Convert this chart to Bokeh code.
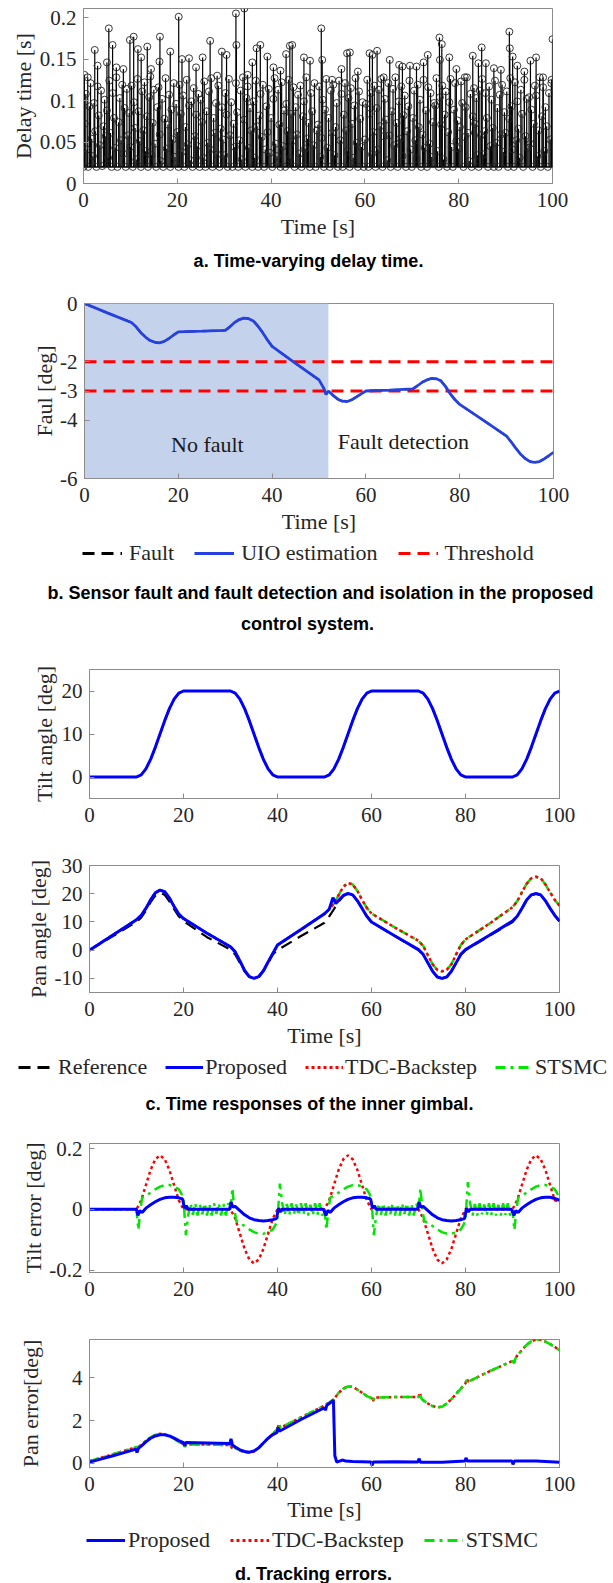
import numpy as np
from bokeh.plotting import figure
from bokeh.layouts import column, row
from bokeh.models import Range1d, FixedTicker, Legend, LegendItem, Label, BoxAnnotation
from bokeh.embed import file_html
from bokeh.resources import INLINE

# ====================== DATA ======================
time_ticks = [0, 20, 40, 60, 80, 100]
time_tick_labels = ["0", "20", "40", "60", "80", "100"]

# (a) time-varying delay
delay_ticks = [0, 0.05, 0.1, 0.15, 0.2]
delay_tick_labels = ["0", "0.05", "0.1", "0.15", "0.2"]
delay_min = 0.02
delay_sample_period = 0.25
delay_dense = [
    .020, .072, .108, .041, .020, .093, .121, .054, .033, .097, .063, .020, .117, .082, .046, .112, .021, .069, .101, .057,
    .088, .031, .124, .061, .020, .109, .079, .043, .128, .020, .074, .103, .052, .119, .036, .091, .020, .114, .058, .085,
    .044, .118, .020, .098, .067, .029, .126, .087, .051, .020, .111, .064, .122, .039, .081, .020, .104, .129, .034, .073,
    .113, .048, .020, .092, .116, .059, .027, .102, .020, .078, .127, .042, .071, .107, .020, .089, .053, .121, .032, .096,
    .062, .020, .119, .084, .038, .106, .020, .068, .125, .047, .094, .028, .099, .020, .115, .057, .083, .045, .108, .020,
    .101, .074, .031, .123, .020, .087, .049, .111, .041, .127, .020, .079, .061, .097, .035, .118, .020, .066, .092, .053,
    .034, .109, .083, .020, .126, .058, .098, .020, .072, .044, .121, .086, .020, .052, .112, .029, .128, .077, .020, .103,
    .117, .043, .091, .064, .020, .099, .031, .124, .069, .020, .082, .108, .056, .119, .020, .041, .093, .062, .114, .037,
    .079, .020, .102, .127, .048, .033, .113, .071, .020, .122, .045, .088, .020, .096, .063, .125, .030, .084, .051, .116,
    .020, .092, .059, .107, .036, .118, .020, .081, .099, .042, .128, .054, .073, .020, .109, .087, .046, .121, .020, .064,
    .071, .117, .032, .055, .101, .020, .089, .126, .043, .079, .020, .112, .061, .119, .034, .068, .097, .020, .124, .052,
    .108, .020, .083, .121, .064, .039, .103, .020, .115, .072, .031, .094, .127, .049, .020, .111, .078, .044, .098, .020,
    .053, .096, .125, .020, .084, .109, .035, .062, .118, .020, .091, .041, .113, .069, .126, .020, .057, .102, .077, .028,
    .121, .058, .020, .087, .114, .046, .128, .073, .020, .099, .054, .117, .033, .082, .106, .020, .063, .093, .124, .041,
    .020, .079, .112, .052, .030, .119, .068, .101, .020, .059, .125, .043, .088, .020, .116, .048, .109, .032, .074, .097,
    .094, .127, .039, .020, .104, .071, .118, .029, .083, .111, .020, .062, .098, .126, .044, .020, .089, .121, .051, .076,
    .042, .068, .123, .097, .020, .056, .092, .128, .061, .027, .108, .020, .081, .115, .072, .103, .034, .020, .112, .058,
    .126, .035, .063, .109, .079, .020, .117, .045, .101, .067, .020, .124, .049, .091, .020, .107, .059, .119, .038, .086,
    .061, .111, .020, .078, .127, .093, .041, .020, .122, .052, .099, .066, .031, .113, .084, .020, .125, .057, .102, .043,
    .104, .048, .089, .020, .072, .118, .106, .033, .064, .128, .020, .081, .116, .039, .092, .069, .020, .109, .053, .121,
]
delay_peaks = [
    (0.2, .131), (0.9, .128), (2.4, .161), (3.0, .142), (5.0, .146), (5.4, .187), (6.2, .167), (7.0, .140),
    (8.5, .138), (9.9, .173), (10.7, .177), (11.6, .162), (12.3, .152), (13.6, .165), (14.4, .138), (16.2, .147),
    (16.3, .177), (18.5, .159), (20.3, .201), (21.0, .150), (22.5, .151), (24.0, .140), (25.4, .152), (27.0, .172),
    (28.5, .130), (29.5, .159), (30.5, .155), (32.5, .205), (32.6, .167), (34.3, .211), (35.0, .131), (36.0, .146),
    (36.9, .163), (37.7, .167), (39.2, .153), (40.5, .140), (42.0, .136), (43.2, .156), (44.0, .166), (44.5, .167),
    (47.0, .152), (48.3, .148), (50.7, .187), (50.9, .149), (53.0, .125), (55.0, .138), (56.2, .157), (56.8, .158),
    (58.5, .135), (61.0, .157), (61.6, .155), (62.6, .160), (64.0, .128), (65.3, .149), (67.3, .143), (68.0, .141),
    (69.6, .142), (71.0, .141), (72.5, .146), (73.4, .155), (75.9, .176), (76.0, .149), (76.4, .168), (78.0, .152),
    (79.5, .138), (81.3, .128), (83.0, .154), (84.2, .145), (84.9, .164), (85.8, .145), (87.5, .139), (89.0, .137),
    (90.8, .183), (90.9, .163), (91.5, .153), (92.5, .142), (94.0, .135), (95.3, .148), (96.5, .152), (98.0, .128),
    (99.8, .125), (100.0, .174),
]

# (b) fault detection
fault_ticks = [0, -2, -3, -4, -6]
fault_tick_labels = ["0", "-2", "-3", "-4", "-6"]
no_fault_end = 52
threshold_levels = [-2, -3]
threshold_t = [0, 100]
uio_t = [0, 5, 10, 11, 12, 13, 14, 15, 16, 17, 18, 19, 20, 25, 30, 31, 32, 33, 34, 35, 36, 37, 38, 39, 40,
         45, 50, 51, 51.5, 52, 53, 54, 55, 56, 57, 58, 59, 60, 65, 70, 71, 72, 73, 74, 75, 76, 77, 78, 79, 80,
         85, 90, 91, 92, 93, 94, 95, 96, 97, 98, 99, 100]
uio_v = [0, -0.33, -0.65, -0.8, -1.0, -1.15, -1.27, -1.33, -1.35, -1.3, -1.2, -1.08, -0.97, -0.95, -0.92,
         -0.8, -0.65, -0.55, -0.5, -0.52, -0.6, -0.78, -1.0, -1.25, -1.47, -2.05, -2.62, -2.9, -3.12, -3.0,
         -3.15, -3.28, -3.35, -3.36, -3.3, -3.2, -3.1, -3.0, -2.97, -2.93, -2.82, -2.7, -2.62, -2.57, -2.58,
         -2.65, -2.85, -3.1, -3.3, -3.46, -4.0, -4.55, -4.75, -4.97, -5.17, -5.32, -5.42, -5.45, -5.42, -5.33,
         -5.22, -5.1]
fault_t = uio_t
fault_v = uio_v

# (c) inner gimbal responses
tilt_ticks = [0, 10, 20]
tilt_tick_labels = ["0", "10", "20"]
tilt_t = [0, 10, 11, 12, 13, 14, 15, 16, 17, 18, 19, 20, 30, 31, 32, 33, 34, 35, 36, 37, 38, 39, 40,
          50, 51, 52, 53, 54, 55, 56, 57, 58, 59, 60, 70, 71, 72, 73, 74, 75, 76, 77, 78, 79, 80,
          90, 91, 92, 93, 94, 95, 96, 97, 98, 99, 100]
tilt_v = [0, 0, 0.5, 1.9, 4.1, 6.9, 10, 13.1, 15.9, 18.1, 19.5, 20,
          20, 19.5, 18.1, 15.9, 13.1, 10, 6.9, 4.1, 1.9, 0.5, 0,
          0, 0.5, 1.9, 4.1, 6.9, 10, 13.1, 15.9, 18.1, 19.5, 20,
          20, 19.5, 18.1, 15.9, 13.1, 10, 6.9, 4.1, 1.9, 0.5, 0,
          0, 0.5, 1.9, 4.1, 6.9, 10, 13.1, 15.9, 18.1, 19.5, 20]

pan_ticks = [-10, 0, 10, 20, 30]
pan_tick_labels = ["-10", "0", "10", "20", "30"]
pan_ref_t = [0, 10, 11, 12, 13, 14, 15, 16, 17, 18, 19, 20, 25, 30, 31, 32, 33, 34, 35, 36, 37, 38, 39, 40,
             45, 50, 51, 52, 53, 54, 55, 56, 57, 58, 59, 60, 65, 70, 71, 72, 73, 74, 75, 76, 77, 78, 79, 80,
             85, 90, 91, 92, 93, 94, 95, 96, 97, 98, 99, 100]
pan_ref_v = [0, 10, 11.5, 14, 17, 19.3, 20.3, 19.6, 17.3, 14.5, 12, 10.3, 4.6, 0.2,
             -1.5, -4.5, -7.5, -9.4, -10, -9.4, -7.5, -4.5, -1.5, 0, 5, 9.7,
             12, 14.5, 17.2, 19.2, 20, 19.5, 17.5, 14.8, 12, 10, 5, 0,
             -1.5, -4.5, -7.5, -9.5, -10, -9.5, -7.5, -4.5, -1.5, 0, 5, 10,
             12, 14.8, 17.8, 19.5, 20, 19.5, 17.5, 14.8, 12.3, 10.2]
pan_prop_t = [0, 10, 11, 12, 13, 14, 15, 16, 17, 18, 19, 20, 25, 30, 31, 32, 33, 34, 35, 36, 37, 38, 39, 40,
              45, 50, 51, 51.8, 52.4, 53, 54, 55, 56, 57, 58, 59, 60, 65, 70, 71, 72, 73, 74, 75, 76, 77, 78,
              79, 80, 85, 90, 91, 92, 93, 94, 95, 96, 97, 98, 99, 100]
pan_prop_v = [0, 10.8, 12.3, 14.8, 17.8, 20.3, 21.3, 20.7, 18.5, 15.5, 12.8, 11.2, 6, 1.2,
              -0.6, -3.8, -7.2, -9.4, -10, -9.4, -7.3, -4.2, -1.2, 1.8, 7.3, 12.9,
              14.5, 18.6, 16.5, 17.6, 19.4, 20.1, 19.6, 17.5, 14.8, 12, 10, 5, 0.2,
              -1.5, -4.5, -7.5, -9.5, -10, -9.5, -7.5, -4.5, -1.5, 0.2, 5.2, 10.3,
              12, 14.8, 17.8, 19.6, 20.1, 19.6, 17.5, 14.8, 12.3, 10.3]
pan_tdc_t = [0, 10, 11, 12, 13, 14, 15, 16, 17, 18, 19, 20, 25, 30, 31, 32, 33, 34, 35, 36, 37, 38, 39, 40,
             45, 50, 51, 52, 53, 54, 55, 56, 57, 58, 59, 60, 65, 70, 71, 72, 73, 74, 75, 76, 77, 78, 79, 80,
             85, 90, 91, 92, 93, 94, 95, 96, 97, 98, 99, 100]
pan_tdc_v = [0, 10.8, 12.3, 14.8, 17.8, 20.3, 21.3, 20.7, 18.5, 15.5, 12.8, 11.2, 6, 1.2,
             -0.6, -3.8, -7.2, -9.4, -10, -9.4, -7.3, -4.2, -1.2, 1.8, 7.3, 12.9,
             14.5, 16.5, 19.5, 22.5, 23.8, 23.3, 21, 17.8, 15, 13, 8, 3.3,
             1.5, -1.8, -5, -7, -7.5, -7, -5, -1.5, 1.8, 3.8, 9.3, 15.2,
             17.3, 20.5, 23.5, 25.5, 26, 25.5, 23.3, 20.5, 17.8, 15.8]
pan_stsmc_t = pan_tdc_t
pan_stsmc_v = pan_tdc_v

# (d) tracking errors
tilt_err_ticks = [-0.2, 0, 0.2]
tilt_err_tick_labels = ["-0.2", "0", "0.2"]
tilt_err_prop_t = [0, 10, 10.3, 10.7, 11.2, 12, 13, 14, 15, 16, 17, 18, 19, 19.8, 20.2, 20.6, 21, 25, 29.8,
                   30.1, 30.5, 31, 32, 33, 34, 35, 36, 37, 38, 39, 39.8, 40.2, 40.6, 41, 45, 49.8,
                   50.3, 50.7, 51.2, 52, 53, 54, 55, 56, 57, 58, 59, 59.8, 60.2, 60.6, 61, 65, 69.8,
                   70.1, 70.5, 71, 72, 73, 74, 75, 76, 77, 78, 79, 79.8, 80.2, 80.6, 81, 85, 89.8,
                   90.3, 90.7, 91.2, 92, 93, 94, 95, 96, 97, 98, 99, 100]
tilt_err_prop_v = [0, 0, -0.02, -0.004, -0.01, 0.004, 0.015, 0.025, 0.033, 0.038, 0.04, 0.04, 0.038,
                   0.034, 0.004, 0.012, 0.0, 0.0, 0.0,
                   0.024, 0.008, 0.01, -0.004, -0.018, -0.028, -0.034, -0.037, -0.038, -0.037, -0.034,
                   -0.03, 0.004, -0.008, 0.0, 0.0, 0.0,
                   -0.02, -0.004, -0.01, 0.004, 0.015, 0.025, 0.033, 0.038, 0.04, 0.04, 0.038,
                   0.034, 0.004, 0.012, 0.0, 0.0, 0.0,
                   0.024, 0.008, 0.01, -0.004, -0.018, -0.028, -0.034, -0.037, -0.038, -0.037, -0.034,
                   -0.03, 0.004, -0.008, 0.0, 0.0, 0.0,
                   -0.02, -0.004, -0.01, 0.004, 0.015, 0.025, 0.033, 0.038, 0.04, 0.04, 0.036, 0.03]
tilt_err_tdc_t = [0, 10, 11, 12, 13, 14, 15, 16, 17, 18, 19, 20, 30, 31, 32, 33, 34, 35, 36, 37, 38, 39, 40,
                  50, 51, 52, 53, 54, 55, 56, 57, 58, 59, 60, 70, 71, 72, 73, 74, 75, 76, 77, 78, 79, 80,
                  90, 91, 92, 93, 94, 95, 96, 97, 98, 99, 100]
tilt_err_tdc_v = [0, 0, 0.03, 0.08, 0.13, 0.165, 0.178, 0.165, 0.13, 0.08, 0.03, 0,
                  0, -0.03, -0.08, -0.13, -0.165, -0.178, -0.165, -0.13, -0.08, -0.03, 0,
                  0, 0.03, 0.08, 0.13, 0.165, 0.178, 0.165, 0.13, 0.08, 0.03, 0,
                  0, -0.03, -0.08, -0.13, -0.165, -0.178, -0.165, -0.13, -0.08, -0.03, 0,
                  0, 0.03, 0.08, 0.13, 0.165, 0.178, 0.165, 0.13, 0.08, 0.03, 0.025]
tilt_err_stsmc_t = [0, 10, 10.4, 10.8, 11.2, 12, 13, 14, 15, 16, 17, 18, 19, 19.6, 20,
                    20.5, 21, 21.5, 22, 22.5, 23, 23.5, 24, 24.5, 25, 25.5, 26, 26.5, 27, 27.5, 28, 28.5, 29, 29.5, 30,
                    30.4, 30.8, 31.2, 32, 33, 34, 35, 36, 37, 38, 39, 39.6, 40,
                    40.5, 41, 41.5, 42, 42.5, 43, 43.5, 44, 44.5, 45, 45.5, 46, 46.5, 47, 47.5, 48, 48.5, 49, 49.5, 50,
                    50.4, 50.8, 51.2, 52, 53, 54, 55, 56, 57, 58, 59, 59.6, 60,
                    60.5, 61, 61.5, 62, 62.5, 63, 63.5, 64, 64.5, 65, 65.5, 66, 66.5, 67, 67.5, 68, 68.5, 69, 69.5, 70,
                    70.4, 70.8, 71.2, 72, 73, 74, 75, 76, 77, 78, 79, 79.6, 80,
                    80.5, 81, 81.5, 82, 82.5, 83, 83.5, 84, 84.5, 85, 85.5, 86, 86.5, 87, 87.5, 88, 88.5, 89, 89.5, 90,
                    90.4, 90.8, 91.2, 92, 93, 94, 95, 96, 97, 98, 99, 99.6, 100]
tilt_err_stsmc_v = [0, 0, -0.068, -0.005, 0.038, 0.045, 0.055, 0.066, 0.075, 0.08, 0.08, 0.076, 0.066, 0.05, 0.035,
                    -0.085, -0.02, 0.02, -0.018, 0.02, -0.02, 0.016, -0.016, 0.02, -0.02, 0.018, -0.02, 0.02, -0.015, 0.02, -0.02, 0.018, -0.02, 0.02, 0.0,
                    0.07, 0.005, -0.038, -0.045, -0.055, -0.066, -0.075, -0.08, -0.08, -0.076, -0.066, -0.05, -0.035,
                    0.085, 0.02, -0.02, 0.018, -0.02, 0.02, -0.016, 0.016, -0.02, 0.02, -0.018, 0.02, -0.02, 0.015, -0.02, 0.02, -0.018, 0.02, -0.02, 0.0,
                    -0.068, -0.005, 0.038, 0.045, 0.055, 0.066, 0.075, 0.08, 0.08, 0.076, 0.066, 0.05, 0.035,
                    -0.085, -0.02, 0.02, -0.018, 0.02, -0.02, 0.016, -0.016, 0.02, -0.02, 0.018, -0.02, 0.02, -0.015, 0.02, -0.02, 0.018, -0.02, 0.02, 0.0,
                    0.07, 0.005, -0.038, -0.045, -0.055, -0.066, -0.075, -0.08, -0.08, -0.076, -0.066, -0.05, -0.035,
                    0.09, 0.02, -0.02, 0.018, -0.02, 0.02, -0.016, 0.016, -0.02, 0.02, -0.018, 0.02, -0.02, 0.015, -0.02, 0.02, -0.018, 0.02, -0.02, 0.0,
                    -0.068, -0.005, 0.038, 0.045, 0.055, 0.066, 0.075, 0.08, 0.08, 0.076, 0.066, 0.05, 0.04]

pan_err_ticks = [0, 2, 4]
pan_err_tick_labels = ["0", "2", "4"]
pan_err_prop_t = [0, 5, 9.9, 10.1, 10.4, 11, 12, 13, 14, 15, 16, 17, 18, 19, 20, 20.2, 20.5, 25, 29.9, 30.1, 30.4,
                  31, 32, 33, 34, 35, 36, 37, 38, 39, 39.9, 40.1, 40.4, 45, 50, 50.2, 50.5, 51.5, 51.9, 52.2,
                  52.6, 53.2, 53.8, 54.5, 56, 59.9, 60.1, 60.4, 65, 69.9, 70.1, 70.4, 75, 79.9, 80.1, 80.4, 85,
                  89.9, 90.1, 90.4, 95, 100]
pan_err_prop_v = [0.05, 0.35, 0.66, 0.5, 0.7, 0.8, 1.0, 1.17, 1.28, 1.33, 1.33, 1.28, 1.18, 1.06, 0.97,
                  0.82, 0.97, 0.95, 0.92, 1.14, 0.86, 0.76, 0.63, 0.55, 0.52, 0.57, 0.72, 0.95, 1.17, 1.34,
                  1.44, 1.68, 1.5, 2.05, 2.6, 2.48, 2.72, 2.88, 2.95, 0.35, 0.06, 0.1, 0.15, 0.1, 0.08, 0.06,
                  -0.1, 0.06, 0.07, 0.06, 0.22, 0.05, 0.05, 0.1, 0.25, 0.1, 0.1, 0.1, -0.05, 0.1, 0.1, 0.05]
pan_err_tdc_t = [0, 5, 10, 10.3, 10.6, 11, 12, 13, 14, 15, 16, 17, 18, 19, 20, 20.3, 20.6, 25, 30, 30.4, 30.8,
                 32, 33, 34, 35, 36, 37, 38, 39, 40, 40.3, 40.6, 45, 50, 51, 52, 53, 54, 55, 56, 57, 58, 59, 60,
                 60.3, 60.6, 65, 70, 70.3, 70.6, 71, 72, 73, 74, 75, 76, 77, 78, 79, 80, 80.3, 80.6, 85, 90,
                 90.3, 90.6, 91, 92, 93, 94, 95, 96, 97, 98, 99, 100]
pan_err_tdc_v = [0.1, 0.42, 0.76, 0.66, 0.8, 0.86, 1.05, 1.22, 1.33, 1.38, 1.36, 1.28, 1.15, 1.0, 0.9,
                 0.78, 0.88, 0.88, 0.85, 0.68, 0.74, 0.6, 0.52, 0.5, 0.55, 0.72, 0.95, 1.18, 1.38, 1.6,
                 1.85, 1.66, 2.15, 2.7, 2.85, 3.0, 3.3, 3.5, 3.6, 3.58, 3.45, 3.3, 3.15, 3.05,
                 2.88, 3.08, 3.1, 3.1, 3.3, 3.05, 2.95, 2.8, 2.68, 2.62, 2.65, 2.8, 3.0, 3.25, 3.5, 3.75,
                 3.95, 3.82, 4.3, 4.8, 4.7, 4.9, 5.05, 5.3, 5.55, 5.72, 5.8, 5.78, 5.7, 5.58, 5.45, 5.3]
pan_err_stsmc_t = pan_err_tdc_t
pan_err_stsmc_v = pan_err_tdc_v

# ====================== STYLE ======================
W = 613
SERIF = "Liberation Serif"
SANS = "Liberation Sans"
TXT = "#262626"
AXC = "#8c8c8c"
BLUE = "#0000ff"
RED = "#ff0000"
GREEN = "#00e600"
DASH = "12 7"
DOT = "3 3"
DASHDOT = "10 5 3 5"


def panel(fig_top, fig_bot, fl, ft, fr, fb, yr):
    p = figure(frame_width=fr - fl, frame_height=fb - ft,
               min_border_left=fl, min_border_right=W - fr,
               min_border_top=ft - fig_top, min_border_bottom=fig_bot - fb,
               x_range=Range1d(0, 100), y_range=Range1d(*yr),
               toolbar_location=None, output_backend="svg")
    p.xgrid.visible = False
    p.ygrid.visible = False
    p.outline_line_color = AXC
    p.outline_line_width = 1
    p.background_fill_color = "white"
    p.border_fill_color = "white"
    return p


def style_axes(p, yticks, ylabels, ylabel, ylab_standoff, xlabel=None, xlab_standoff=4):
    xa = p.xaxis[0]
    ya = p.yaxis[0]
    for ax in (xa, ya):
        ax.major_label_text_font = SERIF
        ax.major_label_text_font_size = "21px"
        ax.major_label_text_color = TXT
        ax.axis_label_text_font = SERIF
        ax.axis_label_text_font_size = "22px"
        ax.axis_label_text_font_style = "normal"
        ax.axis_label_text_color = TXT
        ax.major_tick_in = 5
        ax.major_tick_out = 0
        ax.minor_tick_line_color = None
        ax.axis_line_color = AXC
        ax.major_tick_line_color = AXC
    ya.major_label_standoff = 7
    xa.major_label_standoff = 9
    xa.ticker = FixedTicker(ticks=time_ticks)
    xa.major_label_overrides = {t: l for t, l in zip(time_ticks, time_tick_labels)}
    ya.ticker = FixedTicker(ticks=yticks)
    ya.major_label_overrides = {t: l for t, l in zip(yticks, ylabels)}
    ya.axis_label = ylabel
    ya.axis_label_standoff = ylab_standoff
    if xlabel:
        xa.axis_label = xlabel
        xa.axis_label_standoff = xlab_standoff


def text_fig(top, bot):
    h = bot - top
    t = figure(frame_width=W, frame_height=h, min_border=0, min_border_left=0, min_border_right=0,
               min_border_top=0, min_border_bottom=0,
               x_range=Range1d(0, W), y_range=Range1d(0, h), x_axis_type=None, y_axis_type=None,
               toolbar_location=None, output_backend="svg")
    t.xgrid.visible = False
    t.ygrid.visible = False
    t.outline_line_color = None
    t.background_fill_color = "white"
    t.border_fill_color = "white"
    t._top = top
    t._h = h
    return t


def caption(t, text, cx, cy):
    t.add_layout(Label(x=cx, y=t._h - (cy - t._top), x_units="screen", y_units="screen", text=text,
                       text_align="center", text_baseline="middle", text_font=SANS,
                       text_font_style="bold", text_font_size="18px", text_color="black"))


def legend(t, entries, left, cy, glyph_w, standoff, spacing):
    # entries: (label, line style); the key lines sit outside the visible frame
    items = []
    for lab, kw in entries:
        r = t.line(x=[-60, -50], y=[-60, -60], **kw)
        items.append(LegendItem(label=lab, renderers=[r]))
    h = 24
    lg = Legend(items=items, location=(left, t._h - (cy - t._top) - h / 2), orientation="horizontal",
                glyph_width=glyph_w, glyph_height=h, label_height=h, label_standoff=standoff,
                spacing=spacing, padding=0, margin=0, border_line_color=None,
                background_fill_alpha=0, label_text_font=SERIF, label_text_font_size="22px",
                label_text_color=TXT, label_text_baseline="middle")
    t.add_layout(lg)


# ---------------- (a) ----------------
pa = panel(0, 245, 83, 8, 552, 183, (0, 0.211))
dense_t = np.arange(len(delay_dense)) * delay_sample_period
pk_t = [a for a, b in delay_peaks]
pk_v = [b for a, b in delay_peaks]
all_t = np.concatenate([dense_t, pk_t])
all_v = np.concatenate([delay_dense, pk_v])
pa.segment(x0=all_t, y0=np.full(len(all_t), delay_min), x1=all_t, y1=all_v,
           line_color="black", line_width=1.2)
pa.line([0, 100], [delay_min, delay_min], line_color="black", line_width=1.5)
pa.scatter(all_t, all_v, marker="circle", size=7, fill_color=None, line_color="#222222", line_width=0.9)
style_axes(pa, delay_ticks, delay_tick_labels, "Delay time [s]", 1, "Time [s]", 4)
ta = text_fig(245, 280)
caption(ta, "a. Time-varying delay time.", 308, 260)

# ---------------- (b) ----------------
pb = panel(280, 540, 84, 303, 553, 478, (-6, 0))
pb.add_layout(BoxAnnotation(left=0, right=no_fault_end, fill_color="#c5d2ec", fill_alpha=1.0,
                            line_color=None, level="underlay"))
for lv in threshold_levels:
    pb.line(threshold_t, [lv, lv], line_color=RED, line_width=3, line_dash=DASH)
pb.line(fault_t, fault_v, line_color="black", line_width=2, line_dash=DASH)
pb.line(uio_t, uio_v, line_color="#2541e0", line_width=2.8)
pb.add_layout(Label(x=26.2, y=-4.83, text="No fault", text_align="center", text_baseline="middle",
                    text_font=SERIF, text_font_size="22px", text_color="#1a1a1a"))
pb.add_layout(Label(x=68, y=-4.72, text="Fault detection", text_align="center", text_baseline="middle",
                    text_font=SERIF, text_font_size="22px", text_color="#1a1a1a"))
style_axes(pb, fault_ticks, fault_tick_labels, "Faul [deg]", 0, "Time [s]", 4)
tb = text_fig(540, 650)
legend(tb, [("Fault", dict(line_color="black", line_width=3, line_dash=DASH)),
            ("UIO estimation", dict(line_color="#2541e0", line_width=3)),
            ("Threshold", dict(line_color=RED, line_width=3, line_dash=DASH))], 82, 554, 40, 7, 20)
caption(tb, "b. Sensor fault and fault detection and isolation in the proposed", 320, 592)
caption(tb, "control system.", 307, 623)

# ---------------- (c) tilt ----------------
pc1 = panel(650, 840, 89, 669, 559, 798, (-5, 25))
pc1.line(tilt_t, tilt_v, line_color="black", line_width=2, line_dash=DASH)
pc1.line(tilt_t, tilt_v, line_color=BLUE, line_width=3)
style_axes(pc1, tilt_ticks, tilt_tick_labels, "Tilt angle [deg]", 2)

# ---------------- (c) pan ----------------
pc2 = panel(840, 1054, 89, 865, 559, 992, (-15, 30))
pc2.line(pan_ref_t, pan_ref_v, line_color="black", line_width=2.2, line_dash=DASH)
pc2.line(pan_stsmc_t, pan_stsmc_v, line_color=GREEN, line_width=2.5, line_dash=DASHDOT)
pc2.line(pan_tdc_t, pan_tdc_v, line_color=RED, line_width=2.5, line_dash=DOT)
pc2.line(pan_prop_t, pan_prop_v, line_color=BLUE, line_width=3)
style_axes(pc2, pan_ticks, pan_tick_labels, "Pan angle [deg]", 1, "Time [s]", 4)
tc = text_fig(1054, 1125)
legend(tc, [("Reference", dict(line_color="black", line_width=3, line_dash=DASH)),
            ("Proposed", dict(line_color=BLUE, line_width=3)),
            ("TDC-Backstep", dict(line_color=RED, line_width=3, line_dash=DOT)),
            ("STSMC", dict(line_color=GREEN, line_width=3, line_dash=DASHDOT))], 18, 1068, 38, 2, 18)
caption(tc, "c. Time responses of the inner gimbal.", 309, 1103)

# ---------------- (d) tilt error ----------------
pd1 = panel(1125, 1310, 89, 1143, 559, 1272, (-0.208, 0.217))
pd1.line(tilt_err_tdc_t, tilt_err_tdc_v, line_color=RED, line_width=2.5, line_dash=DOT)
pd1.line(tilt_err_stsmc_t, tilt_err_stsmc_v, line_color=GREEN, line_width=2.5, line_dash=DASHDOT)
pd1.line(tilt_err_prop_t, tilt_err_prop_v, line_color=BLUE, line_width=3)
style_axes(pd1, tilt_err_ticks, tilt_err_tick_labels, "Tilt error [deg]", 0)

# ---------------- (d) pan error ----------------
pd2 = panel(1310, 1526, 89, 1339, 559, 1467, (-0.2, 5.8))
pd2.line(pan_err_tdc_t, pan_err_tdc_v, line_color=RED, line_width=2.5, line_dash=DOT)
pd2.line(pan_err_stsmc_t, pan_err_stsmc_v, line_color=GREEN, line_width=2.5, line_dash=DASHDOT)
pd2.line(pan_err_prop_t, pan_err_prop_v, line_color=BLUE, line_width=3)
style_axes(pd2, pan_err_ticks, pan_err_tick_labels, "Pan error[deg]", 26, "Time [s]", 3)
td = text_fig(1526, 1583)
legend(td, [("Proposed", dict(line_color=BLUE, line_width=3)),
            ("TDC-Backstep", dict(line_color=RED, line_width=3, line_dash=DOT)),
            ("STSMC", dict(line_color=GREEN, line_width=3, line_dash=DASHDOT))], 86, 1541, 39, 3, 20)
caption(td, "d. Tracking errors.", 313, 1573)

# each figure sits in its own row so that the column does not line up their frames
figs = [pa, ta, pb, tb, pc1, pc2, tc, pd1, pd2, td]
layout = column(*[row(f, spacing=0) for f in figs], spacing=0)
open("out.html", "w").write(file_html(layout, INLINE))
